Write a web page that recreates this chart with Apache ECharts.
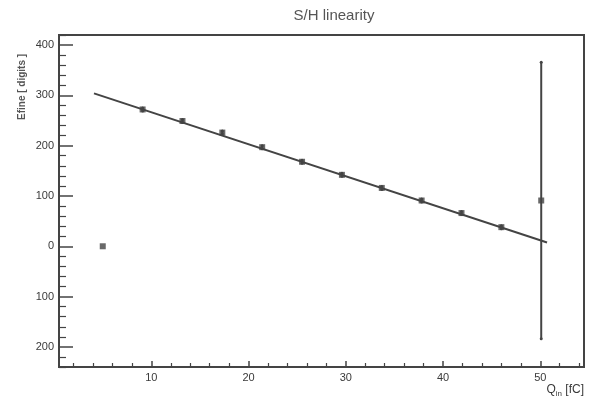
<!DOCTYPE html>
<html>
<head>
<meta charset="utf-8">
<script src="https://cdn.jsdelivr.net/npm/echarts@6/dist/echarts.min.js"></script>
<style>html,body{margin:0;padding:0;background:#fff}#c{width:592px;height:400px}</style>
</head>
<body>
<div id="c"></div>
<script>
var titleText = 'S/H linearity';
var yName = 'Efine [ digits ]';
var xValues = [5, 9.1, 13.2, 17.3, 21.4, 25.5, 29.6, 33.7, 37.8, 41.9, 46.0, 50.1];
var yValues = [0, 272, 249, 226, 197, 168, 142, 116, 91, 66, 38, 91];
var yErrors = [0, 3, 3, 3, 3, 3, 3, 3, 3, 3, 3, 275];
var fitX = [4.1, 50.7];
var fitY = [304, 7.5];
var xMajorTicks = [10, 20, 30, 40, 50];
var xMinorTicks = [2,4,6,8,12,14,16,18,22,24,26,28,32,34,36,38,42,44,46,48,52,54];
var yMajorTicks = [-200, -100, 0, 100, 200, 300, 400];
var yTickLabels = ['200', '100', '0', '100', '200', '300', '400'];
var yMinorTicks = [-240,-220,-180,-160,-140,-120,-80,-60,-40,-20,20,40,60,80,120,140,160,180,220,240,260,280,320,340,360,380,420];

var C = '#444';
var chart = echarts.init(document.getElementById('c'), null, {renderer: 'canvas'});
var pts = xValues.map(function (x, i) { return [x, yValues[i]]; });
var errs = xValues.map(function (x, i) { return [x, yValues[i], yErrors[i]]; });
var fit = fitX.map(function (x, i) { return [x, fitY[i]]; });

function baseX(extra) {
  return Object.assign({
    type: 'value', min: 0.5, max: 54.5, position: 'bottom', gridIndex: 0,
    splitLine: {show: false},
    axisLine: {show: true, onZero: false, lineStyle: {color: C, width: 2}}
  }, extra);
}
function baseY(extra) {
  return Object.assign({
    type: 'value', min: -240, max: 420, position: 'left', gridIndex: 0,
    splitLine: {show: false},
    axisLine: {show: true, onZero: false, lineStyle: {color: C, width: 2}}
  }, extra);
}

chart.setOption({
  animation: false,
  backgroundColor: '#fff',
  title: {
    text: titleText, left: 329, top: 3, textAlign: 'center',
    textStyle: {fontFamily: 'Liberation Sans', fontSize: 15, fontWeight: 'normal', color: '#555'}
  },
  grid: {left: 59, right: 8, top: 35, bottom: 33, show: true, borderColor: C, borderWidth: 2, backgroundColor: '#fff'},
  xAxis: [
    baseX({
      axisTick: {show: true, inside: true, length: 6, customValues: xMajorTicks, lineStyle: {color: C, width: 1.5}},
      axisLabel: {show: true, customValues: xMajorTicks, color: '#3a3a3a', fontFamily: 'Liberation Sans', fontSize: 11, margin: 5}
    }),
    baseX({
      axisTick: {show: true, inside: true, length: 4, customValues: xMinorTicks, lineStyle: {color: C, width: 1.2}},
      axisLabel: {show: false}
    })
  ],
  yAxis: [
    baseY({
      axisTick: {show: true, inside: true, length: 14, customValues: yMajorTicks, lineStyle: {color: C, width: 1.5}},
      axisLabel: {
        show: true, customValues: yMajorTicks, color: '#3a3a3a', fontFamily: 'Liberation Sans', fontSize: 11, margin: 5,
        formatter: function (v) { var i = yMajorTicks.indexOf(v); return i >= 0 ? yTickLabels[i] : ''; }
      }
    }),
    baseY({
      axisTick: {show: true, inside: true, length: 7, customValues: yMinorTicks, lineStyle: {color: C, width: 1.2}},
      axisLabel: {show: false}
    })
  ],
  graphic: [
    {
      type: 'text', rotation: Math.PI / 2, silent: true,
      style: {text: yName, fontFamily: 'Liberation Sans', fontSize: 10, fontWeight: 'bold', fill: '#555'},
      x: 17, y: 120
    },
    {
      type: 'text', right: 8, top: 384, silent: true,
      style: {
        text: '{a|Q}{b|in}{a| [fC]}',
        rich: {
          a: {fontFamily: 'Liberation Sans', fontSize: 12, fill: '#3a3a3a', color: '#3a3a3a'},
          b: {fontFamily: 'Liberation Sans', fontSize: 8, fill: '#3a3a3a', color: '#3a3a3a', padding: [8, 0, 0, 0]}
        }
      }
    }
  ],
  series: [
    {
      type: 'line', data: fit, xAxisIndex: 0, yAxisIndex: 0, symbol: 'none',
      lineStyle: {color: C, width: 2}, z: 3
    },
    {
      type: 'custom', data: errs, xAxisIndex: 0, yAxisIndex: 0, z: 4,
      renderItem: function (params, api) {
        var x = api.value(0), y = api.value(1), e = api.value(2);
        if (!e) return null;
        var top = api.coord([x, y + e]);
        var bot = api.coord([x, y - e]);
        return {
          type: 'group',
          children: [
            {type: 'line', shape: {x1: top[0], y1: top[1], x2: bot[0], y2: bot[1]}, style: {stroke: C, lineWidth: 2}},
            {type: 'circle', shape: {cx: top[0], cy: top[1], r: 1.5}, style: {fill: C}},
            {type: 'circle', shape: {cx: bot[0], cy: bot[1], r: 1.5}, style: {fill: C}}
          ]
        };
      }
    },
    {
      type: 'scatter', data: pts, xAxisIndex: 0, yAxisIndex: 0, symbol: 'rect', symbolSize: 6,
      itemStyle: {color: C}, z: 5
    }
  ]
});
</script>
</body>
</html>
